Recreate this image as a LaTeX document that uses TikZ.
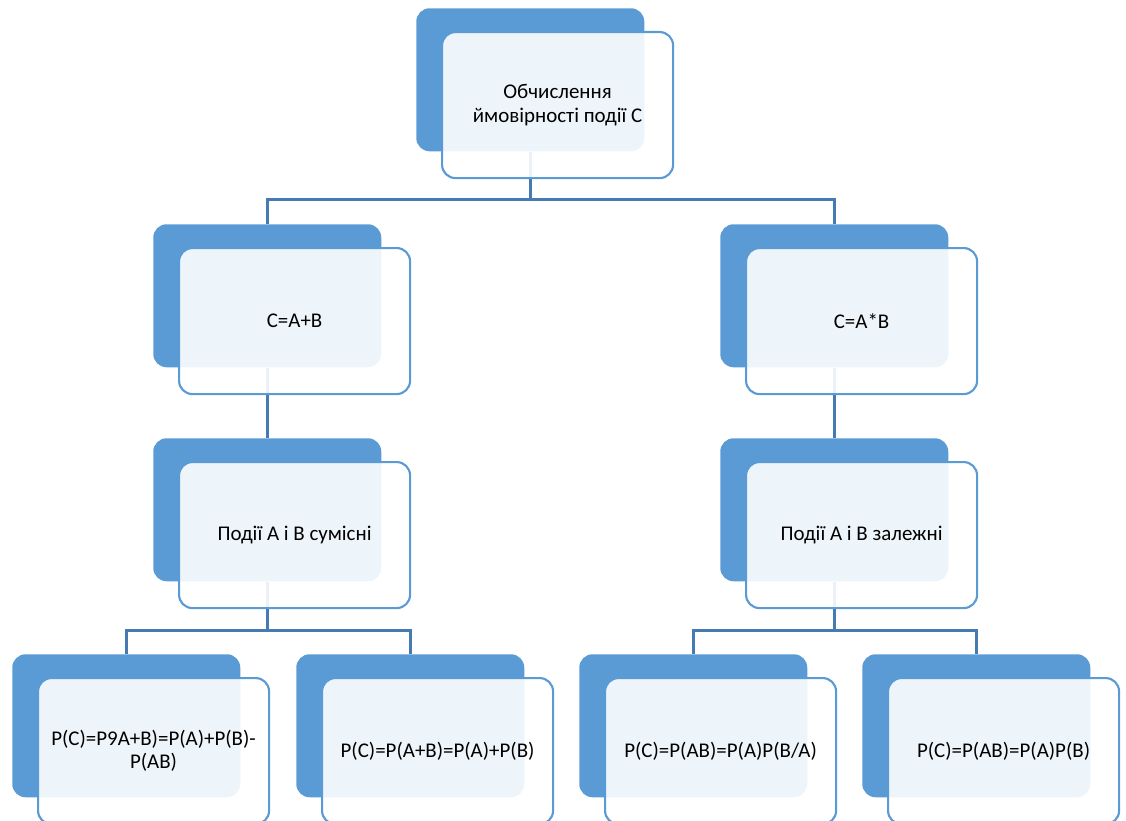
\documentclass[tikz,border=0pt]{standalone}
\usepackage{fontspec}
\setmainfont{Carlito}
\usetikzlibrary{positioning}
\definecolor{boxblue}{RGB}{91,155,213}
\definecolor{lineblue}{RGB}{70,122,178}
\def\shiftx{18.75pt}
\def\shifty{17.25pt}

\begin{document}
\begin{tikzpicture}[x=0.75pt,y=-0.75pt]
    \tikzstyle{back}=[fill=boxblue,rounded corners=10pt,minimum width=171pt,minimum height=107.25pt,inner sep=0pt,anchor=north west]
    \tikzstyle{front}=[draw=boxblue,line width=1.6pt,fill=white,fill opacity=0.9,text opacity=1,rounded corners=10pt,minimum width=173.25pt,minimum height=109.5pt,inner sep=0pt,align=center,font=\fontsize{15.7}{17.3}\selectfont]
    \tikzstyle{link}=[draw=lineblue,line width=2.2pt]

    \useasboundingbox (0,0) rectangle (1126,820);

    % Draw the back boxes
    \node[back] (B-top) at (416,8) {};
    \foreach \name/\x/\y in {2a/153/224,2b/720/224,3a/153/438,3b/720/438,4a/12/654,4b/296/654,4c/579/654,4d/862/654}
        \node[back] (B-\name) at (\x,\y) {};

    % Connect every box with the boxes of the next level
    \draw[link] (B-top.south) -- ++(0,48) -| (B-2a.north);
    \draw[link] (B-top.south) -- ++(0,48) -| (B-2b.north);
    \draw[link] (B-2a.south) -- (B-3a.north);
    \draw[link] (B-2b.south) -- (B-3b.north);
    \draw[link] (B-3a.south) -- ++(0,49) -| (B-4a.north);
    \draw[link] (B-3a.south) -- ++(0,49) -| (B-4b.north);
    \draw[link] (B-3b.south) -- ++(0,49) -| (B-4c.north);
    \draw[link] (B-3b.south) -- ++(0,49) -| (B-4d.north);

    % Draw the front boxes with the text
    \node[front,below right=\shifty and \shiftx of B-top.north west] (F-top) {Обчислення\\ймовірності події С};
    \node[front,below right=\shifty and \shiftx of B-2a.north west] (F-2a) {C=A+B};
    \node[front,below right=\shifty and \shiftx of B-2b.north west] (F-2b) {C=A*B};
    \node[front,below right=\shifty and \shiftx of B-3a.north west] (F-3a) {Події А і В сумісні};
    \node[front,below right=\shifty and \shiftx of B-3b.north west] (F-3b) {Події А і В залежні};
    \node[front,below right=\shifty and \shiftx of B-4a.north west] (F-4a) {P(C)=P9A+B)=P(A)+P(B)-\\P(AB)};
    \node[front,below right=\shifty and \shiftx of B-4b.north west] (F-4b) {P(C)=P(A+B)=P(A)+P(B)};
    \node[front,below right=\shifty and \shiftx of B-4c.north west] (F-4c) {P(C)=P(AB)=P(A)P(B/A)};
    \node[front,below right=\shifty and \shiftx of B-4d.north west] (F-4d) {P(C)=P(AB)=P(A)P(B)};
\end{tikzpicture}
\end{document}
